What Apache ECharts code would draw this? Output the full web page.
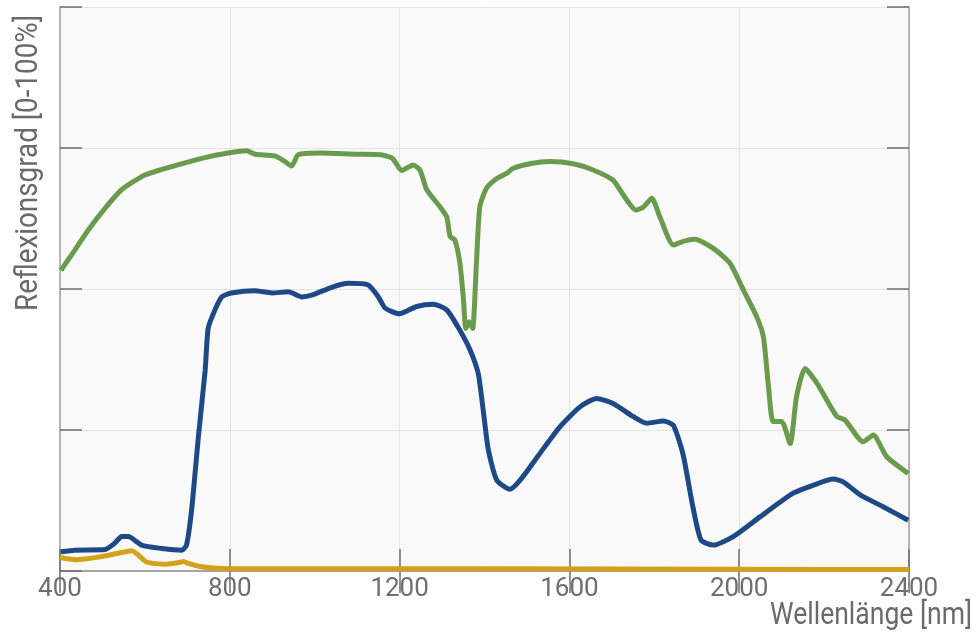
<!DOCTYPE html>
<html>
<head>
<meta charset="utf-8">
<script src="https://cdn.jsdelivr.net/npm/echarts@6/dist/echarts.min.js"></script>
<style>html,body{margin:0;padding:0;background:#fff;}#c{width:976px;height:639px;}</style>
</head>
<body>
<div id="c"></div>
<script>
const FONT = "Roboto, 'Liberation Sans', sans-serif";
const xTicks = [400, 800, 1200, 1600, 2000, 2400];
const xAxisName = 'Wellenlänge [nm]';
const yAxisName = 'Reflexionsgrad [0-100%]';

const greenWl = [402,435,467,506,545,600,663,742,796,840,860,906,930,946,961,1016,1095,1156,1183,1205,1232,1248,1264,1295,1311,1319,1330,1342,1350,1356,1364,1372,1381,1389,1405,1429,1452,1468,1507,1554,1609,1656,1703,1719,1735,1756,1774,1794,1813,1845,1870,1896,1939,1978,2010,2041,2057,2069,2080,2100,2120,2135,2155,2183,2230,2249,2292,2316,2347,2398];
const greenVal = [53.3,56.9,60.5,64.3,67.6,70.2,71.7,73.3,74.1,74.5,73.9,73.6,72.6,71.8,73.8,74.1,73.9,73.8,73.2,71.0,72.0,71.1,67.6,64.6,62.8,59.3,58.7,54.6,48.6,43.0,44.2,43.0,54.6,64.6,67.9,69.6,70.5,71.4,72.2,72.6,72.2,71.1,69.3,67.6,65.8,64.0,64.5,66.1,62.8,57.8,58.5,58.8,57.2,54.6,49.8,45.1,41.5,32.7,26.5,26.5,22.6,30.9,35.9,33.3,27.4,26.8,22.9,24.1,20.3,17.3];

const blueWl = [402,435,506,530,545,561,592,640,687,698,710,726,742,749,765,781,804,859,899,938,969,993,1040,1079,1126,1150,1166,1199,1240,1279,1311,1342,1366,1385,1397,1409,1429,1460,1484,1531,1578,1625,1664,1703,1750,1782,1821,1845,1868,1890,1910,1939,1986,2049,2127,2174,2222,2245,2285,2339,2398];
const blueVal = [3.4,3.7,3.8,5.0,6.1,6.1,4.6,4.0,3.7,4.6,10.8,23.8,35.6,43.0,46.3,48.6,49.3,49.7,49.3,49.5,48.6,48.9,50.3,51.0,50.7,48.6,46.6,45.6,46.9,47.3,46.3,42.7,39.2,35.1,28.5,21.5,16.1,14.5,16.1,20.9,25.6,29.1,30.6,29.7,27.4,26.2,26.6,25.8,20.6,11.7,5.5,4.6,6.1,9.6,13.8,15.2,16.3,15.8,13.5,11.4,9.0];

const yellowWl = [400,439,494,534,569,604,651,680,690,700,730,769,900,1400,2000,2400];
const yellowVal = [2.4,2.0,2.5,3.1,3.6,1.6,1.2,1.5,1.7,1.4,0.8,0.5,0.4,0.4,0.3,0.25];

const zip = (a, b) => a.map((v, i) => [v, b[i]]);

// measure text to compress names into a condensed look
const mctx = document.createElement('canvas').getContext('2d');
function textWidth(t, size) { mctx.font = size + 'px ' + FONT; return mctx.measureText(t).width; }
const NAME_SIZE = 32;
const xNameScale = 202 / textWidth(xAxisName, NAME_SIZE);
const yNameScale = 296 / textWidth(yAxisName, NAME_SIZE);

const chart = echarts.init(document.getElementById('c'));
const tickStyle = { show: true, inside: true, length: 22, lineStyle: { color: '#6e6e6e', width: 1.5 } };
const axisLine = { show: true, lineStyle: { color: '#a0a0a0', width: 1.5 } };
const grid = { left: 60, top: 7, right: 67, bottom: 68, show: true, backgroundColor: '#f9f9f9', borderWidth: 0, outerBoundsMode: 'none', containLabel: false };

chart.setOption({
  animation: false,
  grid: grid,
  xAxis: [{
    type: 'value', min: 400, max: 2400, interval: 400, position: 'bottom',
    axisLine: axisLine, axisTick: tickStyle,
    splitLine: { show: true, lineStyle: { color: '#e4e4e4', width: 1 } },
    axisLabel: { color: '#6e6e6e', fontFamily: FONT, fontSize: 26, margin: 5,
      formatter: v => xTicks.includes(v) ? String(v) : '' }
  }, {
    type: 'value', min: 400, max: 2400, interval: 400, position: 'top',
    axisLine: axisLine, axisTick: tickStyle, axisLabel: { show: false }, splitLine: { show: false }
  }],
  yAxis: [{
    type: 'value', min: 0, max: 100, interval: 25, position: 'left',
    axisLine: axisLine, axisTick: tickStyle, axisLabel: { show: false },
    splitLine: { show: true, lineStyle: { color: '#e4e4e4', width: 1 } }
  }, {
    type: 'value', min: 0, max: 100, interval: 25, position: 'right',
    axisLine: axisLine, axisTick: tickStyle, axisLabel: { show: false }, splitLine: { show: false }
  }],
  graphic: [{
    type: 'text', x: 29, y: 163, rotation: Math.PI / 2, scaleX: yNameScale,
    style: { text: yAxisName, fill: '#6a6a6a', fontFamily: FONT, fontSize: NAME_SIZE, align: 'center', verticalAlign: 'middle' }
  }, {
    type: 'text', x: 972, y: 616, scaleX: xNameScale,
    style: { text: xAxisName, fill: '#6a6a6a', fontFamily: FONT, fontSize: NAME_SIZE, align: 'right', verticalAlign: 'middle' }
  }],
  series: [
    { type: 'line', name: 'Gelb', data: zip(yellowWl, yellowVal), showSymbol: false, smooth: 0.2,
      lineStyle: { color: '#d4a11c', width: 5 }, z: 3 },
    { type: 'line', name: 'Blau', data: zip(blueWl, blueVal), showSymbol: false, smooth: 0.2,
      lineStyle: { color: '#1d4a86', width: 5 }, z: 4 },
    { type: 'line', name: 'Grün', data: zip(greenWl, greenVal), showSymbol: false, smooth: 0.2,
      lineStyle: { color: '#699b4c', width: 5 }, z: 5 }
  ]
});
</script>
</body>
</html>
